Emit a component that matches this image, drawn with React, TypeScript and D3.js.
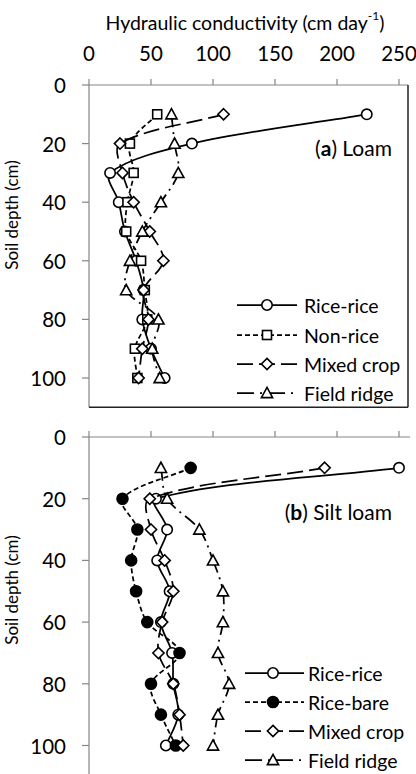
import React from 'react';
import * as d3 from 'd3';

const DEPTHS = [10, 20, 30, 40, 50, 60, 70, 80, 90, 100];
const X_TICKS = [0, 50, 100, 150, 200, 250];
const Y_TICKS = [0, 20, 40, 60, 80, 100];

// (a) Loam
const loamRiceRice = [224, 83, 17, 24, 29, 38, 44, 43, 50, 61];
const loamNonRice = [55, 33, 36, 31, 30, 42, 45, 47, 37, 39];
const loamMixed = [108.5, 25, 27, 36, 49, 60, 44, 48, 43, 40];
const loamRidge = [66.5, 69, 72, 58, 43, 33, 30, 56, 51, 57];

// (b) Silt loam
const siltRiceRice = [250, 54, 63, 55, 65, 58, 67, 68, 72, 62];
const siltRiceBare = [82, 27, 39, 34, 38, 47, 73, 50, 58, 70];
const siltMixed = [190, 49, 50, 61, 68, 59, 56, 68, 73, 76];
const siltRidge = [58, 63, 89, 100, 108, 108, 104, 113, 104, 100];

const LOAM_NAMES = ['Rice-rice', 'Non-rice', 'Mixed crop', 'Field ridge'];
const SILT_NAMES = ['Rice-rice', 'Rice-bare', 'Mixed crop', 'Field ridge'];

const FONT = 'Lato, "Open Sans", sans-serif';
const AXIS = '#868686';
const LW = 1.75;

type Marker = 'circle' | 'square' | 'diamond' | 'triangle' | 'dot';

const DASH = {
  solid: undefined as string | undefined,
  short: '5,3',
  long: '16,6',
  longDot: '13,5,2,5',
};

const xScale = d3.scaleLinear().domain([0, 250]).range([89, 399]);

function MarkerShape({ type, x, y }: { type: Marker; x: number; y: number }) {
  const common = { stroke: '#000', strokeWidth: 1.6 };
  if (type === 'circle') return <circle cx={x} cy={y} r={5.2} fill="#fff" {...common} />;
  if (type === 'dot') return <circle cx={x} cy={y} r={5.5} fill="#000" {...common} />;
  if (type === 'square') return <rect x={x - 4.5} y={y - 4.5} width={9} height={9} fill="#fff" {...common} />;
  if (type === 'diamond') {
    const s = 5.6;
    return <path d={`M${x},${y - s}L${x + s},${y}L${x},${y + s}L${x - s},${y}Z`} fill="#fff" {...common} />;
  }
  const s = 5.6;
  return <path d={`M${x},${y - s}L${x + s},${y + 4.6}L${x - s},${y + 4.6}Z`} fill="#fff" {...common} />;
}

interface Series {
  name: string;
  values: number[];
  marker: Marker;
  dash: string | undefined;
}

const dist = (a: [number, number], b: [number, number]) => Math.hypot(a[0] - b[0], a[1] - b[1]);

// Smoothed line split into one Bezier per pair of points (dash pattern restarts at each point),
// with chord-length weighted tangents to limit overshoot.
function segmentPaths(pts: [number, number][]): string[] {
  const out: string[] = [];
  for (let i = 0; i < pts.length - 1; i++) {
    const p0 = pts[Math.max(0, i - 1)];
    const p1 = pts[i];
    const p2 = pts[i + 1];
    const p3 = pts[Math.min(pts.length - 1, i + 2)];
    const d01 = dist(p0, p1);
    const d12 = dist(p1, p2);
    const d23 = dist(p2, p3);
    const f1 = d01 + d12 > 0 ? d12 / (d01 + d12) / 3 : 0;
    const f2 = d12 + d23 > 0 ? d12 / (d12 + d23) / 3 : 0;
    const c1x = p1[0] + (p2[0] - p0[0]) * f1;
    const c1y = p1[1] + (p2[1] - p0[1]) * f1;
    const c2x = p2[0] - (p3[0] - p1[0]) * f2;
    const c2y = p2[1] - (p3[1] - p1[1]) * f2;
    const path = d3.path();
    path.moveTo(p1[0], p1[1]);
    path.bezierCurveTo(c1x, c1y, c2x, c2y, p2[0], p2[1]);
    out.push(path.toString());
  }
  return out;
}

function Panel({
  top, pxPerUnit, series, label, labelY, legendRows, legendX, boxed, showTickLabels, axisLabelY,
}: {
  top: number; pxPerUnit: number; series: Series[]; label: React.ReactNode; labelY: number;
  legendRows: number[]; legendX: [number, number, number, number]; boxed: boolean;
  showTickLabels: boolean; axisLabelY: number;
}) {
  const yScale = d3.scaleLinear().domain([0, 110]).range([top, top + 110 * pxPerUnit]);
  const bottom = yScale(110);
  const [lx0, lx1, mx, tx] = legendX;
  return (
    <g>
      {/* axes */}
      <line x1={89} x2={boxed ? 408 : 410} y1={top} y2={top} stroke={AXIS} strokeWidth={1.2} />
      <line x1={89} x2={89} y1={top} y2={Math.min(bottom, 780)} stroke={AXIS} strokeWidth={1.2} />
      {X_TICKS.map((t) => (
        <line key={'xt' + t} x1={xScale(t)} x2={xScale(t)} y1={top} y2={top - 6} stroke={AXIS} strokeWidth={1.2} />
      ))}
      {showTickLabels &&
        X_TICKS.map((t) => (
          <text key={'xl' + t} x={xScale(t)} y={top - 32} textAnchor="middle" dominantBaseline="central"
            fontFamily={FONT} fontSize={20.5} fill="#000">{t}</text>
        ))}
      {Y_TICKS.map((t) => (
        <g key={'yt' + t}>
          <line x1={82} x2={89} y1={yScale(t)} y2={yScale(t)} stroke={AXIS} strokeWidth={1.2} />
          <text x={66} y={yScale(t)} textAnchor="end" dominantBaseline="central" fontFamily={FONT}
            fontSize={20.5} fill="#000">{t}</text>
        </g>
      ))}
      {boxed && (
        <g>
          <line x1={408} x2={408} y1={top} y2={bottom} stroke="#222" strokeWidth={1.5} />
          <line x1={89} x2={408} y1={bottom} y2={bottom} stroke="#222" strokeWidth={1.5} />
        </g>
      )}
      <text transform={`translate(11,${axisLabelY}) rotate(-90)`} textAnchor="middle" dominantBaseline="central"
        fontFamily={FONT} fontSize={17} fill="#000">Soil depth (cm)</text>
      {/* series */}
      {series.map((s) => {
        const pts = s.values.map((v, i) => [xScale(v), yScale(DEPTHS[i])] as [number, number]);
        return (
          <g key={s.name}>
            {segmentPaths(pts).map((d, i) => (
              <path key={i} d={d} fill="none" stroke="#000" strokeWidth={LW} strokeDasharray={s.dash} />
            ))}
            {pts.map((p, i) => (
              <MarkerShape key={i} type={s.marker} x={p[0]} y={p[1]} />
            ))}
          </g>
        );
      })}
      {/* panel label */}
      <text x={392} y={labelY} textAnchor="end" fontFamily={FONT} fontSize={21} fill="#000">{label}</text>
      {/* legend */}
      {series.map((s, i) => (
        <g key={'lg' + s.name}>
          <line x1={lx0} x2={lx1} y1={legendRows[i]} y2={legendRows[i]} stroke="#000" strokeWidth={LW}
            strokeDasharray={s.dash === DASH.longDot ? '17,6,2,6' : s.dash} />
          <MarkerShape type={s.marker} x={mx} y={legendRows[i]} />
          <text x={tx} y={legendRows[i]} dominantBaseline="central" fontFamily={FONT} fontSize={19.5} fill="#000">
            {s.name}
          </text>
        </g>
      ))}
    </g>
  );
}

export default function App() {
  const loamSeries: Series[] = [
    { name: LOAM_NAMES[0], values: loamRiceRice, marker: 'circle', dash: DASH.solid },
    { name: LOAM_NAMES[1], values: loamNonRice, marker: 'square', dash: DASH.short },
    { name: LOAM_NAMES[2], values: loamMixed, marker: 'diamond', dash: DASH.long },
    { name: LOAM_NAMES[3], values: loamRidge, marker: 'triangle', dash: DASH.longDot },
  ];
  const siltSeries: Series[] = [
    { name: SILT_NAMES[0], values: siltRiceRice, marker: 'circle', dash: DASH.solid },
    { name: SILT_NAMES[1], values: siltRiceBare, marker: 'dot', dash: DASH.short },
    { name: SILT_NAMES[2], values: siltMixed, marker: 'diamond', dash: DASH.long },
    { name: SILT_NAMES[3], values: siltRidge, marker: 'triangle', dash: DASH.longDot },
  ];
  return (
    <svg width={416} height={774} style={{ position: 'absolute', left: 0, top: 0, background: '#fff' }}>
      <rect width={416} height={774} fill="#fff" />
      <text x={245} y={22} textAnchor="middle" dominantBaseline="central" fontFamily={FONT} fontSize={19.5} fill="#000">
        Hydraulic conductivity (cm day<tspan dy={-7} fontSize={12}>-1</tspan><tspan dy={7}>)</tspan>
      </text>
      <Panel top={85} pxPerUnit={2.93} series={loamSeries}
        label={<>(<tspan fontWeight="bold">a</tspan>) Loam</>} labelY={156}
        legendRows={[305, 335, 364, 393]} legendX={[237, 297, 267, 304]} boxed showTickLabels axisLabelY={215} />
      <Panel top={437} pxPerUnit={3.085} series={siltSeries}
        label={<>(<tspan fontWeight="bold">b</tspan>) Silt loam</>} labelY={520}
        legendRows={[673, 702, 731, 760]} legendX={[245, 304, 273, 308]} boxed={false} showTickLabels={false}
        axisLabelY={590} />
    </svg>
  );
}
